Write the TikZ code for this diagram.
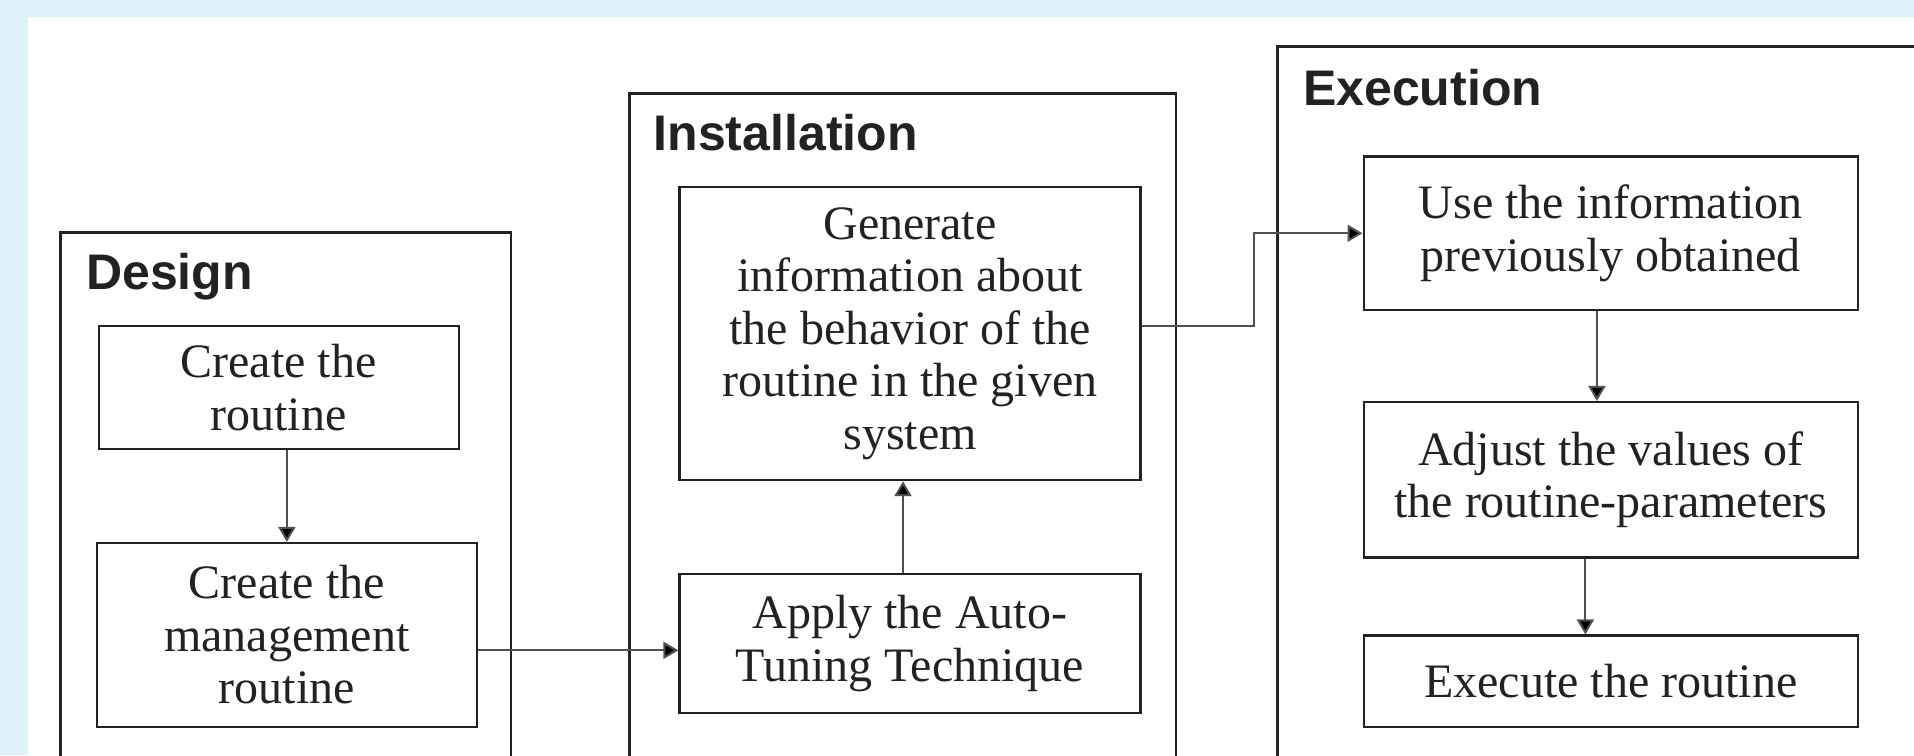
\documentclass[tikz,border=0pt]{standalone}
\usepackage{fontspec}
\setmainfont{Liberation Serif}
\setsansfont{Liberation Sans}
\usetikzlibrary{arrows.meta,calc}
\definecolor{bgblue}{RGB}{223,241,250}
\definecolor{ink}{RGB}{34,34,34}
\definecolor{linegray}{RGB}{80,80,80}
\tikzset{
  stage/.style={draw=ink, line width=2.4pt},
  stepbox/.style={draw=ink, line width=2.2pt, fill=white, inner sep=0pt, align=center,
    text=ink, font=\fontsize{48}{52.5}\selectfont},
  stagelabel/.style={anchor=base west, inner sep=0pt, text=ink,
    font=\sffamily\bfseries\fontsize{50}{54}\selectfont},
  arr/.style={draw=linegray, line width=2pt, -{Triangle[length=15pt,width=17pt,fill=black]}}
}
\begin{document}
\begin{tikzpicture}[x=1pt,y=-1pt]
\useasboundingbox (0,0) rectangle (1914,755);
\clip (0,0) rectangle (1914,755);
\fill[bgblue] (0,0) rectangle (1914,755);
\fill[white] (28,17) rectangle (1930,770);
% stage frames
\draw[stage] (60.5,232.5) rectangle (511,790);
\draw[stage] (629.5,93.5) rectangle (1176,790);
\draw[stage] (1277.5,46.5) rectangle (1950,790);
\node[stagelabel] (ldesign) at (86,289) {Design};
\node[stagelabel] (linst) at (653.5,150) {Installation};
\node[stagelabel] (lexec) at (1303,105) {Execution};
% Design
\node[stepbox, minimum width=360pt, minimum height=123pt] (c1) at (278.6,387.8) {Create the\\routine};
\node[stepbox, minimum width=380pt, minimum height=184pt] (c2) at (286.9,635) {Create the\\management\\routine};
% Installation
\node[stepbox, minimum width=461pt, minimum height=293pt] (gen) at (910,333.6) {Generate\\information about\\the behavior of the\\routine in the given\\system};
\node[stepbox, minimum width=461pt, minimum height=139pt] (apply) at (910,643.3) {Apply the Auto-\\Tuning Technique};
% Execution
\node[stepbox, minimum width=494.6pt, minimum height=153.5pt] (use) at (1610.9,233.3) {Use the information\\previously obtained};
\node[stepbox, minimum width=494.6pt, minimum height=155.5pt] (adj) at (1610.9,479.8) {Adjust the values of\\the routine-parameters};
\node[stepbox, minimum width=494.6pt, minimum height=91.5pt] (exe) at (1610.9,681.3) {Execute the routine};
% connectors
\draw[arr] (c2.north |- c1.south) -- (c2.north);
\coordinate (m1) at ($(apply.west)+(0,7)$);
\draw[arr] (c2.east |- m1) -- (m1);
\coordinate (m2) at ($(apply.north)+(-7,0)$);
\draw[arr] (m2) -- (m2 |- gen.south);
\coordinate (m3) at ($(gen.east)+(0,-7.6)$);
\coordinate (bend) at (1253.5,0);
\draw[arr] (m3) -- (bend |- m3) -- (bend |- use.west) -- (use.west);
\coordinate (m4) at ($(use.south)+(-14,0)$);
\draw[arr] (m4) -- (m4 |- adj.north);
\coordinate (m5) at ($(adj.south)+(-25.5,0)$);
\draw[arr] (m5) -- (m5 |- exe.north);
\end{tikzpicture}
\end{document}
